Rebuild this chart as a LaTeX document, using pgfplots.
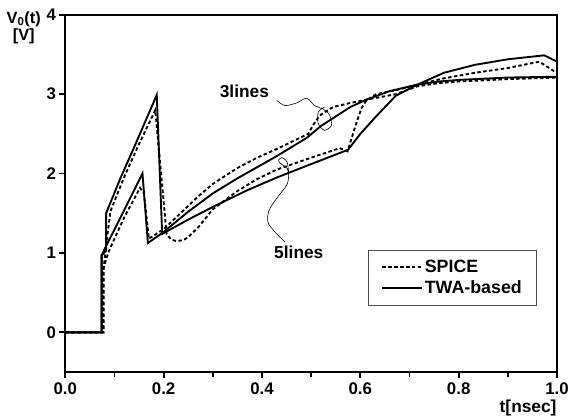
\documentclass[border=0pt]{standalone}
\usepackage{fontspec}
\setmainfont{Liberation Sans}
\usepackage{pgfplots}
\pgfplotsset{compat=1.18}
\begin{document}
\begin{tikzpicture}[font=\fontsize{17.5}{19}\selectfont\bfseries]
\begin{axis}[
  scale only axis, width=497pt, height=361pt,
  xmin=0, xmax=1, ymin=-0.5, ymax=4,
  axis line style={line width=2.4pt},
  xtick={0,0.2,0.4,0.6,0.8,1.0},
  xticklabels={0.0,0.2,0.4,0.6,0.8,1.0},
  minor xtick={0.1,0.3,0.5,0.7,0.9},
  ytick={0,1,2,3,4},
  tick align=outside, xtick pos=bottom, ytick pos=left,
  major tick length=6pt, minor tick length=5pt,
  tick style={line width=1.8pt, black},
  /pgf/number format/assume math mode=true,
  ticklabel style={font=\fontsize{17}{19}\selectfont\bfseries},
  xticklabel style={yshift=-1pt},
  legend style={at={(0.616,0.186)}, anchor=south west, draw=black!70, line width=0.7pt,
    font=\fontsize{18}{20}\selectfont\bfseries, inner xsep=13pt, inner ysep=8pt, row sep=3pt},
  legend cell align=left,
  legend image code/.code={\draw[#1] (0pt,0pt) -- (40pt,0pt);},
]
% 3lines SPICE (dashed)
\addplot[black, line width=1.9pt, dash pattern=on 3.5pt off 2.5pt] coordinates {
(0,0) (0.077,0) (0.077,0.8) (0.089,1.03) (0.12,1.45) (0.152,1.82) (0.16,1.75) (0.17,1.18)
(0.2,1.3) (0.236,1.51) (0.27,1.71) (0.3,1.87) (0.35,2.07) (0.39,2.2) (0.43,2.31) (0.494,2.5) (0.505,2.62)
(0.517,2.73) (0.545,2.84) (0.58,2.89) (0.612,2.93) (0.672,3.0) (0.716,3.10) (0.76,3.14) (0.8,3.16) (0.9,3.19) (1.0,3.21)};
% 5lines SPICE (dashed)
\addplot[black, line width=1.9pt, dash pattern=on 3.5pt off 2.5pt, forget plot] coordinates {
(0,0) (0.078,0) (0.078,0.8) (0.083,1.1) (0.092,1.53) (0.12,1.96) (0.149,2.36) (0.183,2.80) (0.206,1.24)
(0.215,1.17) (0.225,1.15) (0.24,1.16) (0.25,1.2) (0.27,1.32) (0.30,1.55) (0.35,1.78) (0.39,1.93) (0.43,2.05) (0.5,2.2)
(0.558,2.32) (0.574,2.28) (0.59,2.6) (0.602,2.82) (0.612,2.92) (0.632,3.0) (0.672,3.05) (0.716,3.12)
(0.77,3.2) (0.833,3.27) (0.9,3.33) (0.964,3.41) (0.994,3.29) (1.0,3.28)};
% 3lines TWA (solid)
\addplot[black, line width=1.9pt] coordinates {
(0,0) (0.074,0) (0.074,0.97) (0.08,1.05) (0.115,1.48) (0.157,2.0) (0.168,1.125) (0.199,1.26)
(0.25,1.52) (0.30,1.75) (0.35,1.94) (0.43,2.22) (0.491,2.45) (0.52,2.6) (0.55,2.72) (0.58,2.84) (0.612,2.93)
(0.66,3.04) (0.716,3.12) (0.76,3.16) (0.8,3.18) (0.9,3.21) (1.0,3.22)};
% 5lines TWA (solid)
\addplot[black, line width=1.9pt, forget plot] coordinates {
(0,0) (0.074,0) (0.074,0.97) (0.083,1.03) (0.083,1.5) (0.112,1.94) (0.142,2.36) (0.186,2.99)
(0.197,1.24) (0.25,1.42) (0.30,1.58) (0.37,1.79) (0.43,1.95) (0.5,2.12) (0.575,2.30) (0.60,2.5) (0.632,2.72)
(0.672,2.98) (0.716,3.12) (0.77,3.27) (0.833,3.37) (0.9,3.44) (0.974,3.49) (1.0,3.41)};
\legend{SPICE,TWA-based}
\end{axis}
% pixel-frame annotations
\begin{scope}[shift={(-66pt,376pt)}, x=1pt, y=-1pt]
\node at (247,92) {3lines};
\node at (302,255) {5lines};
\draw[line width=0.6pt] plot[smooth] coordinates {(280,101.7) (288,106.7) (300,104) (310,99.3)
 (318,106.7) (326,110) (333,116) (335,126.7) (328,131.7) (321.7,125) (321.7,113.3) (328,108.3)};
\draw[line width=0.6pt] plot[smooth] coordinates {(288.3,245) (271.7,226.7) (271.7,213.3) (280,200)
 (290,186.7) (291.7,176.7) (290,170) (283.3,165) (281.7,161.7) (285,159.3) (290,163.3) (291.7,173.3)};
\node[align=center, font=\fontsize{16.5}{18}\selectfont\bfseries] at (24,28) {V\textsubscript{0}(t)\\{}[V]};
\node[anchor=east] at (566,412) {t[nsec]};
\path[use as bounding box] (0,0) rectangle (572,422);
\end{scope}
\end{tikzpicture}
\end{document}
